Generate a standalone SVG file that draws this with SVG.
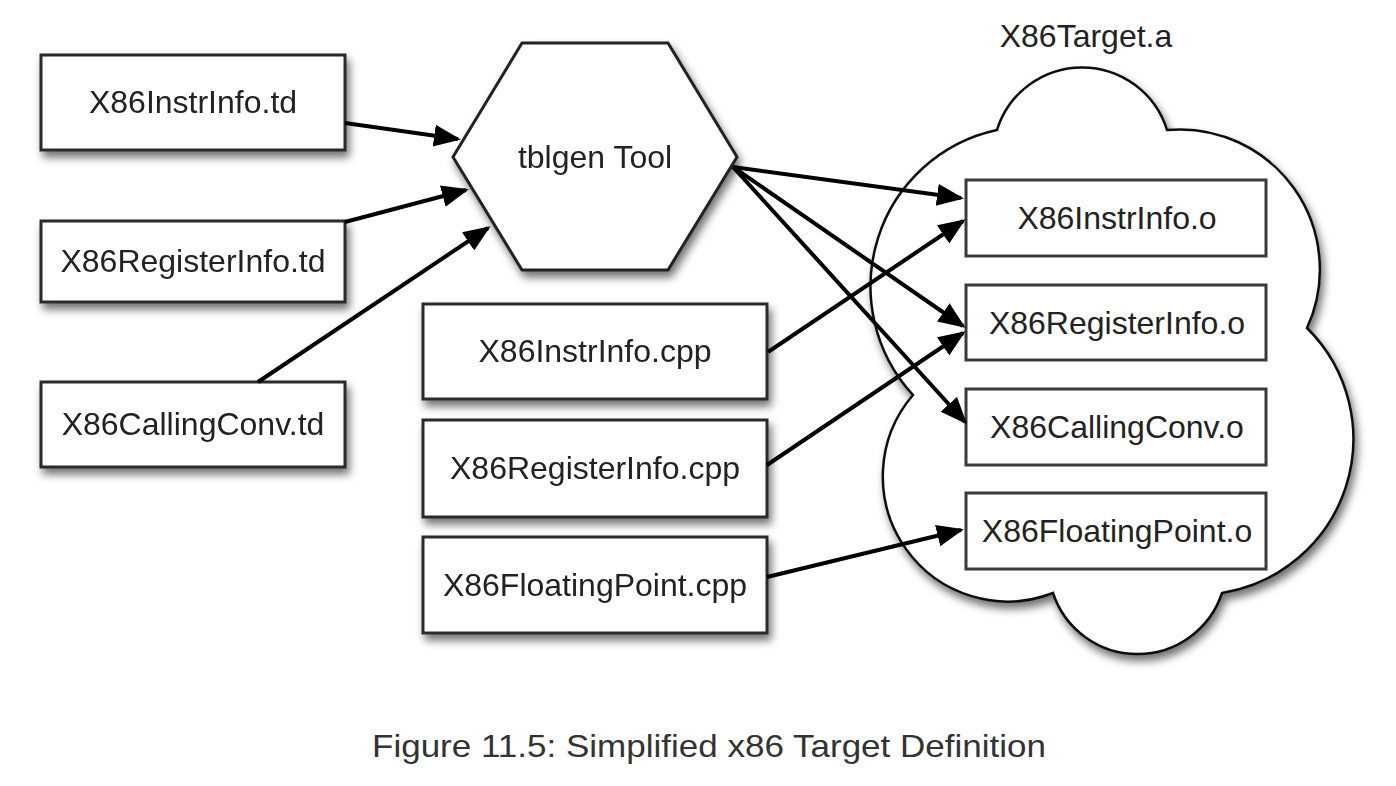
<svg xmlns="http://www.w3.org/2000/svg" width="1396" height="786" viewBox="0 0 1396 786">
<defs>
<filter id="sh" x="-20%" y="-20%" width="150%" height="160%">
<feDropShadow dx="3" dy="6" stdDeviation="4" flood-color="#000" flood-opacity="0.55"/>
</filter>
<marker id="ah" markerUnits="userSpaceOnUse" markerWidth="30" markerHeight="24" refX="24" refY="11" orient="auto">
<path d="M0,0 L27,11 L0,22 z" fill="#000"/>
</marker>
<style>
.box{fill:#fff;stroke:#2a2a2a;stroke-width:3}
.obox{fill:#fff;stroke:#3a3a3a;stroke-width:3}
.lbl{font-family:"Liberation Sans",Arial,sans-serif;font-size:32px;fill:#222;text-anchor:middle}
.con{stroke:#000;stroke-width:4;fill:none;marker-end:url(#ah)}
</style>
</defs>
<rect width="1396" height="786" fill="#fff"/>

<g id="cloud">
<path filter="url(#sh)" d="M997,130 A89,89 0 0 1 1167,130 A140,140 0 0 1 1307,328 A156,156 0 0 1 1222,593 A89,89 0 0 1 1053,593 A125,125 0 0 1 913,395 A160,160 0 0 1 997,130 Z" fill="#fff" stroke="#111" stroke-width="2.5"/>
<text class="lbl" x="1086" y="47">X86Target.a</text>
</g>

<g id="instrinfo_td" filter="url(#sh)">
<rect class="box" x="41" y="55" width="304" height="95"/>
<text class="lbl" x="193" y="113">X86InstrInfo.td</text>
</g>
<g id="registerinfo_td" filter="url(#sh)">
<rect class="box" x="41" y="221" width="304" height="81"/>
<text class="lbl" x="193" y="272">X86RegisterInfo.td</text>
</g>
<g id="callingconv_td" filter="url(#sh)">
<rect class="box" x="41" y="382" width="304" height="85"/>
<text class="lbl" x="193" y="435">X86CallingConv.td</text>
</g>

<g id="tblgen" filter="url(#sh)">
<polygon points="522,43 668,43 737,157 668,270 522,270 453,157" fill="#fff" stroke="#222" stroke-width="3"/>
<text class="lbl" x="595" y="168">tblgen Tool</text>
</g>

<g id="instrinfo_cpp" filter="url(#sh)">
<rect class="box" x="423" y="304" width="344" height="95"/>
<text class="lbl" x="595" y="362">X86InstrInfo.cpp</text>
</g>
<g id="registerinfo_cpp" filter="url(#sh)">
<rect class="box" x="423" y="420" width="344" height="97"/>
<text class="lbl" x="595" y="479">X86RegisterInfo.cpp</text>
</g>
<g id="floatingpoint_cpp" filter="url(#sh)">
<rect class="box" x="423" y="537" width="344" height="96"/>
<text class="lbl" x="595" y="596">X86FloatingPoint.cpp</text>
</g>

<g id="instrinfo_o">
<rect class="obox" x="966" y="180" width="300" height="76"/>
<text class="lbl" x="1117" y="229">X86InstrInfo.o</text>
</g>
<g id="registerinfo_o">
<rect class="obox" x="966" y="285" width="300" height="75"/>
<text class="lbl" x="1117" y="334">X86RegisterInfo.o</text>
</g>
<g id="callingconv_o">
<rect class="obox" x="966" y="389" width="300" height="76"/>
<text class="lbl" x="1117" y="438">X86CallingConv.o</text>
</g>
<g id="floatingpoint_o">
<rect class="obox" x="966" y="493" width="300" height="76"/>
<text class="lbl" x="1117" y="542">X86FloatingPoint.o</text>
</g>

<g id="connectors">
<line class="con" x1="345" y1="123" x2="458" y2="139"/>
<line class="con" x1="345" y1="222" x2="466" y2="190"/>
<line class="con" x1="258" y1="382" x2="488" y2="228"/>
<line class="con" x1="733" y1="167" x2="961" y2="198"/>
<line class="con" x1="733" y1="167" x2="963" y2="326"/>
<line class="con" x1="733" y1="167" x2="965" y2="422"/>
<line class="con" x1="768" y1="352" x2="963" y2="221"/>
<line class="con" x1="767" y1="465" x2="963" y2="333"/>
<line class="con" x1="767" y1="577" x2="961" y2="530"/>
</g>

<text x="372" y="757" font-family="'Liberation Sans',Arial,sans-serif" font-size="32" fill="#333" textLength="674" lengthAdjust="spacingAndGlyphs">Figure 11.5: Simplified x86 Target Definition</text>
</svg>
